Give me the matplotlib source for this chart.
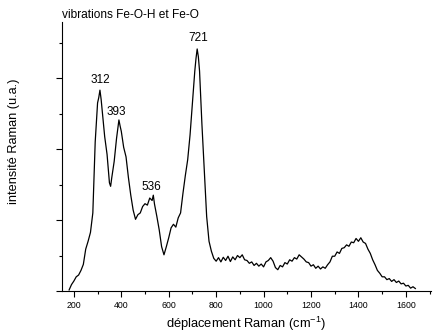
#!/usr/bin/env python3

import matplotlib
matplotlib.use("Agg")
import matplotlib.pyplot as plt
import matplotlib.ticker as ticker


IMAGE_SIZE_PX = (435, 334)
IMAGE_DPI = 100

# Raman shift (cm-1) and intensity (a.u.)
shift = [
    180, 190, 200, 210, 220, 230, 240, 250, 260, 270,
    280, 290, 300, 305, 310, 315, 320, 330, 340, 350,
    355, 360, 370, 380, 390, 395, 400, 410, 420, 430,
    440, 450, 460, 470, 480, 490, 500, 510, 520, 530,
    535, 540, 550, 560, 570, 580, 590, 600, 610, 620,
    630, 640, 650, 660, 670, 680, 690, 700, 710, 715,
    720, 725, 730, 740, 750, 760, 770, 780, 790, 800,
    810, 820, 830, 840, 850, 860, 870, 880, 890, 900,
    910, 920, 930, 940, 950, 960, 970, 980, 990, 1000,
    1010, 1020, 1030, 1040, 1050, 1060, 1070, 1080, 1090, 1100,
    1110, 1120, 1130, 1140, 1150, 1160, 1170, 1180, 1190, 1200,
    1210, 1220, 1230, 1240, 1250, 1260, 1270, 1280, 1290, 1300,
    1310, 1320, 1330, 1340, 1350, 1360, 1370, 1380, 1390, 1400,
    1410, 1420, 1430, 1440, 1450, 1460, 1470, 1480, 1490, 1500,
    1510, 1520, 1530, 1540, 1550, 1560, 1570, 1580, 1590, 1600,
    1610, 1620, 1630, 1640,
]
intensity = [
    0.03, 0.18, 0.28, 0.40, 0.45, 0.58, 0.75, 1.18, 1.40, 1.65,
    2.20, 4.20, 5.30, 5.45, 5.66, 5.40, 5.05, 4.35, 3.85, 3.05,
    2.95, 3.20, 3.65, 4.30, 4.82, 4.65, 4.50, 4.05, 3.78, 3.20,
    2.70, 2.28, 2.02, 2.15, 2.20, 2.38, 2.46, 2.42, 2.62, 2.55,
    2.70, 2.45, 2.10, 1.72, 1.25, 1.02, 1.25, 1.50, 1.78, 1.88,
    1.80, 2.06, 2.20, 2.75, 3.25, 3.70, 4.40, 5.30, 6.20, 6.55,
    6.82, 6.60, 6.20, 4.70, 3.40, 2.10, 1.40, 1.12, 0.92, 0.84,
    0.94, 0.82, 0.95, 0.86, 0.98, 0.83, 0.96, 0.88, 1.00, 0.94,
    1.02, 0.88, 0.86, 0.78, 0.82, 0.72, 0.78, 0.70, 0.76, 0.68,
    0.82, 0.86, 0.94, 0.84, 0.66, 0.60, 0.72, 0.68, 0.80, 0.76,
    0.88, 0.84, 0.94, 0.90, 1.02, 0.96, 0.90, 0.82, 0.80, 0.70,
    0.74, 0.64, 0.70, 0.62, 0.68, 0.64, 0.74, 0.82, 0.98, 0.98,
    1.10, 1.06, 1.20, 1.22, 1.30, 1.26, 1.38, 1.36, 1.48, 1.40,
    1.50, 1.38, 1.34, 1.18, 1.06, 0.88, 0.74, 0.58, 0.50, 0.40,
    0.40, 0.32, 0.35, 0.27, 0.32, 0.24, 0.28, 0.20, 0.22, 0.14,
    0.16, 0.08, 0.12, 0.07,
]

# peak labels
peak_labels = ["312", "393", "536", "721"]
peak_label_x = [310, 379, 525, 726]
peak_label_y = [5.94, 5.04, 2.93, 7.12]


def main():
    plt.rcParams["font.family"] = ["Liberation Sans", "DejaVu Sans"]
    plt.rcParams["mathtext.default"] = "regular"

    fig = plt.figure(figsize=[d / IMAGE_DPI for d in IMAGE_SIZE_PX], dpi=IMAGE_DPI)
    ax = fig.add_axes([62 / 435, 43 / 334, 369 / 435, 269 / 334])

    ax.plot(shift, intensity, color="black", linewidth=0.9)

    for lab, x, y in zip(peak_labels, peak_label_x, peak_label_y):
        ax.text(x, y, lab, ha="center", va="center", fontsize=8.5)

    ax.set_xlim(150, 1706)
    ax.set_ylim(0, 7.58)

    ax.spines["top"].set_visible(False)
    ax.spines["right"].set_visible(False)
    for sp in ("left", "bottom"):
        ax.spines[sp].set_linewidth(0.8)

    ax.xaxis.set_major_locator(ticker.MultipleLocator(200))
    ax.xaxis.set_minor_locator(ticker.MultipleLocator(100))
    ax.yaxis.set_major_locator(ticker.MultipleLocator(2))
    ax.yaxis.set_minor_locator(ticker.MultipleLocator(1))
    ax.yaxis.set_major_formatter(ticker.NullFormatter())

    ax.tick_params(axis="both", which="major", direction="out", length=4, width=0.8,
                   labelsize=6.3, pad=3)
    ax.tick_params(axis="both", which="minor", direction="out", length=2.5, width=0.8)

    ax.set_xlabel(r"déplacement Raman (cm$^{-1}$)", fontsize=9.3, labelpad=4)
    ax.set_ylabel("intensité Raman (u.a.)", fontsize=9.2)
    ax.yaxis.set_label_coords(-0.114, 0.557)

    fig.text(62 / 435, 1 - 15 / 334, "vibrations Fe-O-H et Fe-O",
             ha="left", va="center", fontsize=8.6)

    fig.savefig("out.png", dpi=IMAGE_DPI)


if __name__ == "__main__":
    main()
